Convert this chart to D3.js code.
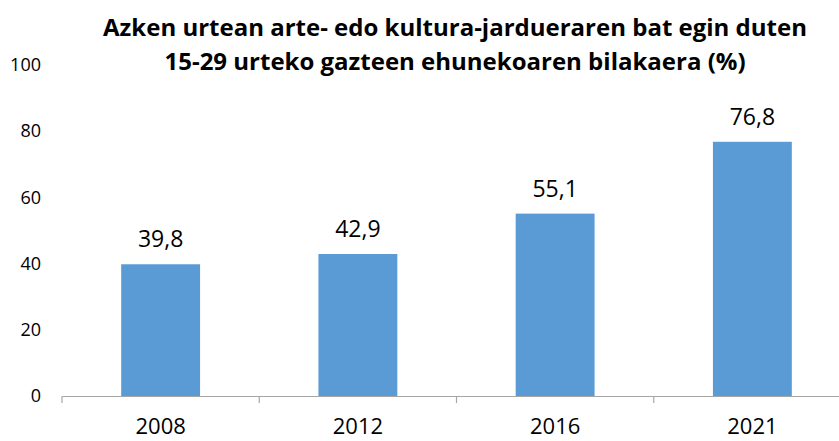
<!DOCTYPE html>
<html>
<head>
<meta charset="utf-8">
<script src="https://cdn.jsdelivr.net/npm/d3@7"></script>
<style>
  body { margin: 0; background: #fff; }
  svg { display: block; font-family: "Open Sans", sans-serif; }
</style>
</head>
<body>
<div id="chart"></div>
<script>
// Data
var years = ["2008", "2012", "2016", "2021"];
var values = [39.8, 42.9, 55.1, 76.8];
var yTicks = [0, 20, 40, 60, 80, 100];
var titleLines = [
  "Azken urtean arte- edo kultura-jardueraren bat egin duten",
  "15-29 urteko gazteen ehunekoaren bilakaera (%)"
];

var width = 839;
var height = 441;
var margin = { top: 65, left: 62, bottom: 45 };
var plotRight = 851; // the axis runs past the right edge in the original

var svg = d3.select("#chart")
  .append("svg")
  .attr("width", width)
  .attr("height", height);

// Scales
var x = d3.scaleBand()
  .domain(years)
  .range([margin.left, plotRight])
  .paddingInner(0.6)
  .paddingOuter(0.3);

var y = d3.scaleLinear()
  .domain([0, 100])
  .range([height - margin.bottom, margin.top]);

// Title
svg.append("g")
  .selectAll("text")
  .data(titleLines)
  .enter()
  .append("text")
  .attr("x", 455)
  .attr("y", function(d, i) { return 36 + i * 34; })
  .attr("text-anchor", "middle")
  .attr("font-size", 24)
  .attr("font-weight", "bold")
  .attr("fill", "#000")
  .text(function(d) { return d; });

// Y axis (labels only)
var yAxis = svg.append("g")
  .attr("transform", "translate(" + margin.left + ",0)")
  .call(d3.axisLeft(y).tickValues(yTicks).tickSize(0).tickPadding(21));
yAxis.select(".domain").remove();
yAxis.selectAll("text")
  .attr("font-family", "Open Sans, sans-serif")
  .attr("font-size", 18)
  .attr("fill", "#000");

// Bars
svg.selectAll(".bar")
  .data(values)
  .enter()
  .append("rect")
  .attr("class", "bar")
  .attr("x", function(d, i) { return x(years[i]); })
  .attr("y", function(d) { return y(d); })
  .attr("width", x.bandwidth())
  .attr("height", function(d) { return y(0) - y(d); })
  .attr("fill", "#5b9bd5");

// Value labels above bars
svg.selectAll(".label")
  .data(values)
  .enter()
  .append("text")
  .attr("class", "label")
  .attr("x", function(d, i) { return x(years[i]) + x.bandwidth() / 2; })
  .attr("y", function(d) { return y(d) - 17; })
  .attr("text-anchor", "middle")
  .attr("font-size", 23)
  .attr("fill", "#000")
  .text(function(d) { return d.toFixed(1).replace(".", ","); });

// X axis: line, boundary ticks, labels
var xAxis = svg.append("g")
  .attr("transform", "translate(0," + y(0) + ")")
  .call(d3.axisBottom(x).tickSize(0).tickPadding(22));
xAxis.select(".domain")
  .attr("stroke", "#a6a6a6")
  .attr("stroke-width", 1.2);
xAxis.selectAll("text")
  .attr("font-family", "Open Sans, sans-serif")
  .attr("font-size", 22)
  .attr("fill", "#000");

var bounds = years.map(function(d) { return x(d) - x.step() * x.paddingOuter(); });
bounds.push(plotRight);
xAxis.selectAll(".sep")
  .data(bounds)
  .enter()
  .append("line")
  .attr("class", "sep")
  .attr("x1", function(d) { return d; })
  .attr("x2", function(d) { return d; })
  .attr("y1", 0)
  .attr("y2", 7)
  .attr("stroke", "#a6a6a6")
  .attr("stroke-width", 1.2);
</script>
</body>
</html>
